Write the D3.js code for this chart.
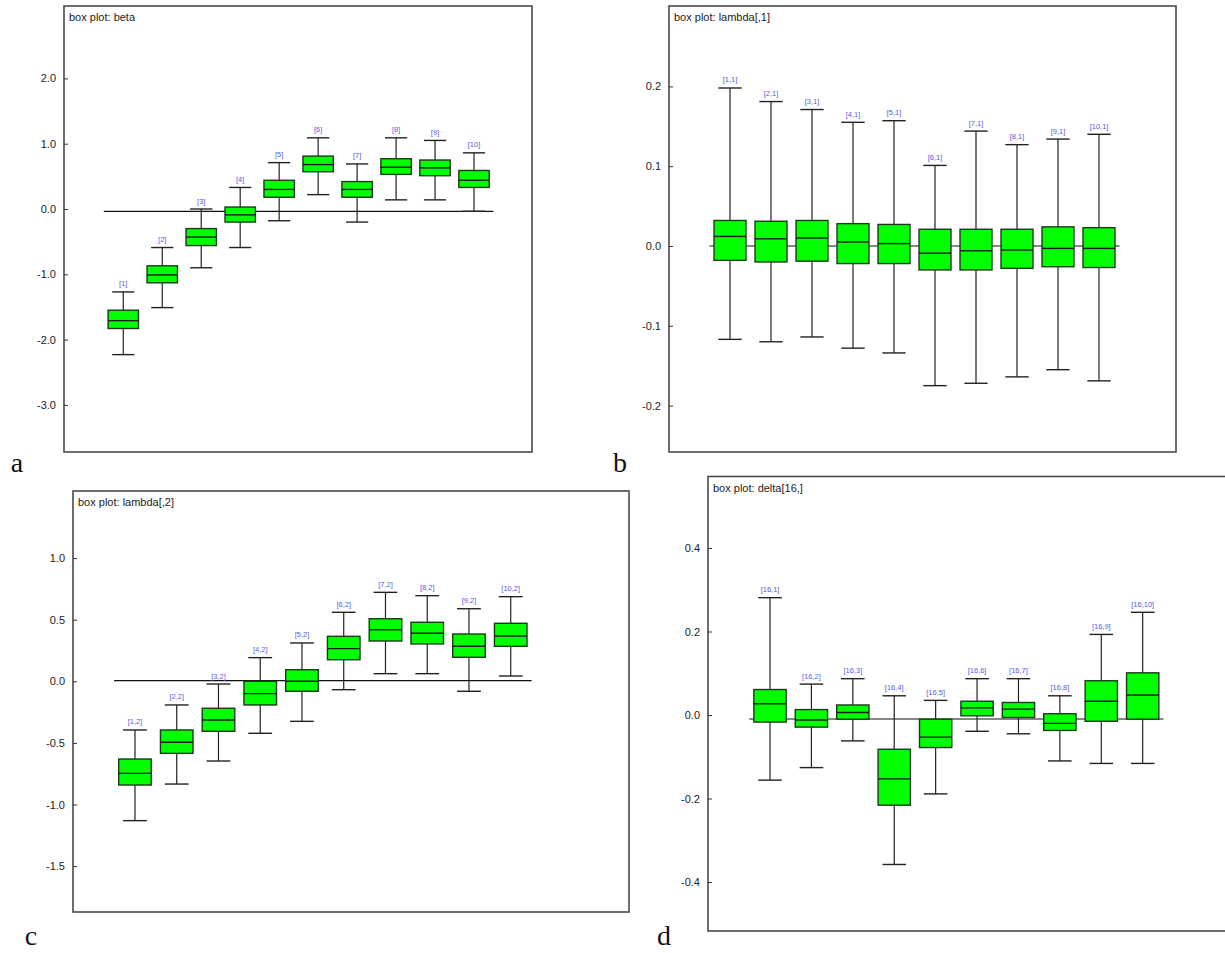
<!DOCTYPE html>
<html><head><meta charset="utf-8">
<script src="https://cdn.jsdelivr.net/npm/d3@7"></script>
<style>body{margin:0;background:#fff;} svg{display:block;}</style>
</head><body>
<svg id="chart" width="1225" height="953"></svg>
<script>
// ---- Panel a: beta ----
const betaLabels = ["[1]","[2]","[3]","[4]","[5]","[6]","[7]","[8]","[9]","[10]"];
const betaUpper  = [-1.27,-0.59, 0.00, 0.33, 0.71, 1.09, 0.69, 1.09, 1.05, 0.86];
const betaQ3     = [-1.55,-0.87,-0.30, 0.03, 0.44, 0.81, 0.42, 0.77, 0.75, 0.59];
const betaMedian = [-1.71,-1.01,-0.43,-0.09, 0.30, 0.68, 0.30, 0.64, 0.63, 0.44];
const betaQ1     = [-1.83,-1.13,-0.56,-0.20, 0.18, 0.57, 0.18, 0.53, 0.51, 0.33];
const betaLower  = [-2.23,-1.51,-0.90,-0.59,-0.18, 0.22,-0.20, 0.14, 0.14,-0.035];
const betaRef = -0.035;
const betaTicks = [-3,-2,-1,0,1,2];

// ---- Panel b: lambda[,1] ----
const lam1Labels = ["[1,1]","[2,1]","[3,1]","[4,1]","[5,1]","[6,1]","[7,1]","[8,1]","[9,1]","[10,1]"];
const lam1Upper  = [0.198,0.181,0.171,0.155,0.157,0.101,0.144,0.127,0.134,0.140];
const lam1Q3     = [0.032,0.031,0.032,0.028,0.027,0.021,0.021,0.021,0.024,0.023];
const lam1Median = [0.012,0.009,0.010,0.005,0.003,-0.009,-0.006,-0.005,-0.003,-0.003];
const lam1Q1     = [-0.018,-0.020,-0.019,-0.022,-0.022,-0.030,-0.030,-0.028,-0.026,-0.027];
const lam1Lower  = [-0.117,-0.120,-0.114,-0.128,-0.134,-0.175,-0.172,-0.164,-0.155,-0.169];
const lam1Ref = 0.0;
const lam1Ticks = [-0.2,-0.1,0,0.1,0.2];

// ---- Panel c: lambda[,2] ----
const lam2Labels = ["[1,2]","[2,2]","[3,2]","[4,2]","[5,2]","[6,2]","[7,2]","[8,2]","[9,2]","[10,2]"];
const lam2Upper  = [-0.395,-0.192,-0.022, 0.192, 0.311, 0.560, 0.722, 0.695, 0.589, 0.687];
const lam2Q3     = [-0.631,-0.395,-0.219, 0.000, 0.094, 0.365, 0.508, 0.479, 0.384, 0.471];
const lam2Median = [-0.747,-0.495,-0.314,-0.100, 0.000, 0.265, 0.419, 0.390, 0.284, 0.368];
const lam2Q1     = [-0.842,-0.585,-0.406,-0.192,-0.081, 0.175, 0.327, 0.303, 0.195, 0.284];
const lam2Lower  = [-1.131,-0.834,-0.647,-0.422,-0.325,-0.068, 0.062, 0.062,-0.081, 0.043];
const lam2Ref = 0.005;
const lam2Ticks = [-1.5,-1.0,-0.5,0,0.5,1.0];

// ---- Panel d: delta[16,] ----
const delLabels = ["[16,1]","[16,2]","[16,3]","[16,4]","[16,5]","[16,6]","[16,7]","[16,8]","[16,9]","[16,10]"];
const delUpper  = [0.281, 0.074, 0.087, 0.046, 0.035, 0.087, 0.087, 0.046, 0.193, 0.246];
const delQ3     = [0.061, 0.013, 0.024,-0.082,-0.010, 0.033, 0.030, 0.003, 0.082, 0.101];
const delMedian = [0.027,-0.012, 0.006,-0.153,-0.053, 0.017, 0.014,-0.020, 0.033, 0.048];
const delQ1     = [-0.017,-0.029,-0.010,-0.216,-0.078,-0.002,-0.006,-0.037,-0.015,-0.010];
const delLower  = [-0.156,-0.126,-0.062,-0.358,-0.189,-0.039,-0.045,-0.110,-0.116,-0.116];
const delRef = -0.0096;
const delTicks = [-0.4,-0.2,0,0.2,0.4];

const svg = d3.select("#chart");
const fmt = d => d3.format(".1f")(d).replace("\u2212", "-");

function panel(opt) {
  const {title, labels, upper, q3, median, q1, lower, ref, ticks,
         frame, xr, zeroY, pxPerUnit, letter} = opt;
  const g = svg.append("g");
  const yTop = (zeroY - frame.y0) / pxPerUnit;
  const yBot = (zeroY - frame.y1) / pxPerUnit;
  const y = d3.scaleLinear().domain([yBot, yTop]).range([frame.y1, frame.y0]);
  const x = d3.scaleBand().domain(labels).range(xr).padding(0);
  const bw = x.bandwidth() * 0.78, cw = x.bandwidth() * 0.57;

  g.append("rect").attr("x", frame.x0).attr("y", frame.y0)
    .attr("width", frame.x1 - frame.x0).attr("height", frame.y1 - frame.y0)
    .attr("fill", "#fff").attr("stroke", "#4a4a4a").attr("stroke-width", 1.6);

  const ax = g.append("g").attr("transform", `translate(${frame.x0},0)`)
    .call(d3.axisLeft(y).tickValues(ticks).tickFormat(fmt).tickSizeInner(-4).tickSizeOuter(0).tickPadding(8));
  ax.select(".domain").remove();
  ax.selectAll(".tick line").attr("stroke", "#333");
  ax.selectAll(".tick text").attr("font-family", "Liberation Sans, Arial, sans-serif")
    .attr("font-size", 11).attr("fill", "#222");

  g.append("text").attr("x", frame.x0 + 5).attr("y", frame.y0 + 15)
    .attr("font-family", "Liberation Sans, Arial, sans-serif").attr("font-size", 11)
    .attr("fill", "#222").text(title);

  g.append("line").attr("x1", xr[0]).attr("x2", xr[1])
    .attr("y1", y(ref)).attr("y2", y(ref)).attr("stroke", "#111").attr("stroke-width", 1.2);

  const data = labels.map((l, i) => ({l, up: upper[i], q3: q3[i], md: median[i], q1: q1[i], lo: lower[i]}));
  const b = g.selectAll("g.box").data(data).join("g").attr("class", "box")
    .attr("transform", d => `translate(${x(d.l) + x.bandwidth() / 2},0)`);
  b.append("line").attr("x1", 0).attr("x2", 0).attr("y1", d => y(d.up)).attr("y2", d => y(d.lo))
    .attr("stroke", "#222").attr("stroke-width", 1.2);
  b.append("line").attr("x1", -cw / 2).attr("x2", cw / 2).attr("y1", d => y(d.up)).attr("y2", d => y(d.up))
    .attr("stroke", "#222").attr("stroke-width", 1.4);
  b.append("line").attr("x1", -cw / 2).attr("x2", cw / 2).attr("y1", d => y(d.lo)).attr("y2", d => y(d.lo))
    .attr("stroke", "#222").attr("stroke-width", 1.4);
  b.append("rect").attr("x", -bw / 2).attr("width", bw)
    .attr("y", d => y(d.q3)).attr("height", d => y(d.q1) - y(d.q3))
    .attr("fill", "#00ff00").attr("stroke", "#1a3a1a").attr("stroke-width", 1.4);
  b.append("line").attr("x1", -bw / 2).attr("x2", bw / 2).attr("y1", d => y(d.md)).attr("y2", d => y(d.md))
    .attr("stroke", "#1a1a1a").attr("stroke-width", 1.4);
  b.append("text").attr("x", 0).attr("y", d => y(d.up) - 5.5).attr("text-anchor", "middle")
    .attr("font-family", "Liberation Sans, Arial, sans-serif").attr("font-size", 7.5)
    .attr("fill", "#5a5ae6").text(d => d.l);

  svg.append("text").attr("x", letter.x).attr("y", letter.y).attr("text-anchor", "middle")
    .attr("font-family", "Liberation Serif, DejaVu Serif, serif").attr("font-size", 28)
    .attr("fill", "#111").text(letter.t);
}

panel({title: "box plot: beta", labels: betaLabels, upper: betaUpper, q3: betaQ3, median: betaMedian,
  q1: betaQ1, lower: betaLower, ref: betaRef, ticks: betaTicks,
  frame: {x0: 64, x1: 532, y0: 6, y1: 452}, xr: [103.8, 493.5], zeroY: 209, pxPerUnit: 65.3,
  letter: {t: "a", x: 17, y: 472}});

panel({title: "box plot: lambda[,1]", labels: lam1Labels, upper: lam1Upper, q3: lam1Q3, median: lam1Median,
  q1: lam1Q1, lower: lam1Lower, ref: lam1Ref, ticks: lam1Ticks,
  frame: {x0: 669, x1: 1176, y0: 6, y1: 452}, xr: [709.5, 1119.5], zeroY: 246, pxPerUnit: 798,
  letter: {t: "b", x: 620, y: 472}});

panel({title: "box plot: lambda[,2]", labels: lam2Labels, upper: lam2Upper, q3: lam2Q3, median: lam2Median,
  q1: lam2Q1, lower: lam2Lower, ref: lam2Ref, ticks: lam2Ticks,
  frame: {x0: 73, x1: 629, y0: 491, y1: 912}, xr: [114.1, 531.6], zeroY: 681.3, pxPerUnit: 123.2,
  letter: {t: "c", x: 31, y: 945}});

panel({title: "box plot: delta[16,]", labels: delLabels, upper: delUpper, q3: delQ3, median: delMedian,
  q1: delQ1, lower: delLower, ref: delRef, ticks: delTicks,
  frame: {x0: 708, x1: 1240, y0: 476.5, y1: 931}, xr: [749.3, 1163.4], zeroY: 715, pxPerUnit: 417.5,
  letter: {t: "d", x: 664, y: 945}});
</script>
</body></html>
